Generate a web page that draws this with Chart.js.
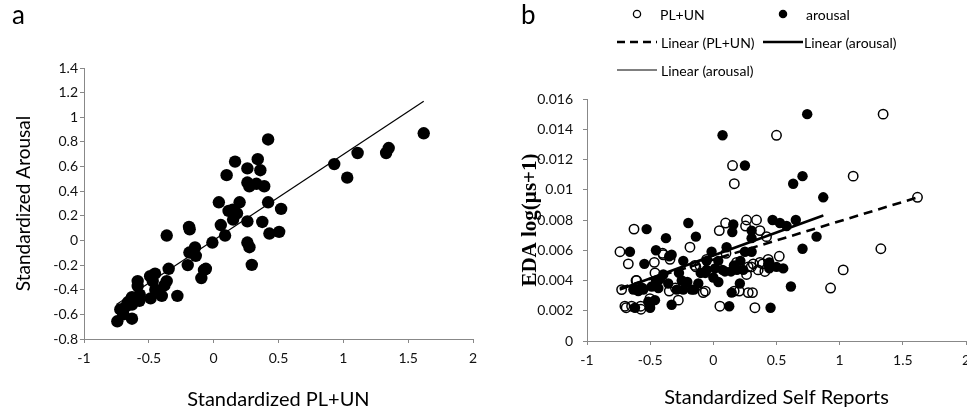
<!DOCTYPE html>
<html>
<head>
<meta charset="utf-8">
<script src="https://cdn.jsdelivr.net/npm/chart.js@4.4.1/dist/chart.umd.min.js"></script>
<style>
html, body { margin: 0; padding: 0; background: #fff; overflow: hidden; }
#wrap { position: relative; width: 967px; height: 415px; overflow: hidden; }
canvas { position: absolute; top: 0; }
#chartA { left: 0; }
#chartB { left: 510px; }
.panel { position: absolute; font-family: Lato, sans-serif; font-size: 26px; line-height: 26px; color: #000; }
</style>
</head>
<body>
<div id="wrap">
  <canvas id="chartA" width="500" height="415"></canvas>
  <canvas id="chartB" width="500" height="415"></canvas>
  <div class="panel" style="left:12px; top:1px;">a</div>
  <div class="panel" style="left:521px; top:1px;">b</div>
</div>
<script>
// Panel a: standardized PL+UN (x) vs standardized arousal (y)
const plunA = [1.62, 1.35, 1.33, 1.11, 0.93, 1.03, 0.42, 0.34, 0.36, 0.26, 0.165, 0.10,
  0.26, 0.275, 0.33, 0.39, 0.04, 0.20, 0.42, 0.52, 0.115, 0.147, 0.18, 0.15, 0.26, 0.375,
  0.055, 0.088, 0.43, 0.505, 0.26, 0.276, 0.294, -0.01, -0.19, -0.185, -0.362,
  -0.144, -0.187, -0.138, -0.20, -0.06, -0.095, -0.075, -0.347, -0.28, -0.362, -0.38,
  -0.452, -0.49, -0.47, -0.45, -0.40, -0.486, -0.586, -0.586, -0.57, -0.573, -0.63, -0.63,
  -0.676, -0.72, -0.743, -0.63, -0.697, -0.66, -0.60, -0.70];
const arousalA = [0.87, 0.75, 0.71, 0.71, 0.62, 0.51, 0.82, 0.66, 0.57, 0.585, 0.64, 0.53,
  0.47, 0.44, 0.46, 0.44, 0.31, 0.31, 0.31, 0.256, 0.24, 0.25, 0.22, 0.17, 0.155, 0.15,
  0.125, 0.04, 0.056, 0.07, -0.017, -0.055, -0.198, -0.017, 0.11, 0.09, 0.04,
  -0.057, -0.098, -0.125, -0.20, -0.23, -0.305, -0.24, -0.23, -0.45, -0.33, -0.365,
  -0.27, -0.29, -0.33, -0.40, -0.45, -0.47, -0.33, -0.37, -0.44, -0.49, -0.46, -0.52,
  -0.535, -0.56, -0.656, -0.635, -0.60, -0.50, -0.48, -0.57];
const trendAX = [-0.75, 1.62];
const trendAY = [-0.52, 1.13];

// Panel b: self reports (x) vs EDA log(us+1) (y)
const plunB = [1.344, 0.50, 0.152, 0.166, 1.107, 1.616, 1.326, 1.028, 0.928, 0.329, 0.052, 0.522,
  -0.628, -0.739, -0.673, -0.467, -0.343, -0.185, 0.047, 0.097, 0.263, 0.342, 0.255, 0.369,
  0.421, 0.316, 0.276, 0.369, 0.408, 0.355, 0.276, 0.31, 0.39, -0.726, -0.69, -0.647,
  -0.573, -0.612, -0.502, -0.462, -0.401, -0.277, -0.349, -0.08, -0.146, -0.053, -0.396,
  -0.138, -0.106, 0.184, 0.30, 0.165, 0.205, -0.70, -0.575, -0.50, -0.063, -0.607, -0.30,
  0.10, 0.434, 0.263];
const edaPlun = [0.0150, 0.0136, 0.0116, 0.0104, 0.0109, 0.0095, 0.0061, 0.0047, 0.0035, 0.0022, 0.0023, 0.0056,
  0.0074, 0.0059, 0.0051, 0.0052, 0.0054, 0.0062, 0.0073, 0.0078, 0.0080, 0.0080, 0.0076, 0.0073,
  0.0069, 0.0051, 0.0049, 0.0052, 0.0046, 0.0047, 0.0032, 0.0032, 0.0051, 0.0034, 0.0022, 0.0023,
  0.0021, 0.0040, 0.0028, 0.0045, 0.0058, 0.0027, 0.0033, 0.0032, 0.0050, 0.0054, 0.0057,
  0.0049, 0.0050, 0.0052, 0.0049, 0.0033, 0.0033, 0.0023, 0.0023, 0.0025, 0.0033, 0.0040, 0.0035,
  0.0058, 0.0054, 0.0044];
const arousalB = [0.743, 0.073, 0.25, 0.706, 0.632, 0.87, 0.817, 0.706, 0.614, 0.453, 0.126, 0.145,
  0.21, 0.469, 0.527, 0.58, 0.653, 0.435, 0.50, 0.553, 0.158, 0.15, 0.105, 0.303, 0.303,
  0.25, 0.303, 0.163, 0.092, 0.237, 0.443, 0.443, -0.528, -0.198, -0.66, -0.546, -0.454,
  -0.375, -0.138, -0.238, -0.272, -0.014, -0.053, 0.039, -0.33, -0.349, -0.633, -0.594,
  -0.554, -0.62, -0.50, -0.462, -0.488, -0.454, -0.422, -0.396, -0.33, -0.29, -0.238,
  -0.206, -0.172, -0.119, -0.10, -0.053, -0.357, 0.073, 0.14, 0.013, 0.187, 0.214, 0.0,
  0.04, -0.064, -0.607, -0.56, -0.515, -0.435, -0.25, -0.153];
const edaArousal = [0.0150, 0.0136, 0.0116, 0.0109, 0.0104, 0.0095, 0.0069, 0.0061, 0.0036, 0.0022, 0.0023, 0.0032,
  0.0038, 0.0080, 0.0078, 0.0076, 0.0080, 0.0051, 0.0049, 0.0048, 0.0077, 0.0072, 0.0062, 0.0073, 0.0068,
  0.0059, 0.0059, 0.0050, 0.0046, 0.0047, 0.0052, 0.0048, 0.0074, 0.0078, 0.0059, 0.0051, 0.0060,
  0.0068, 0.0069, 0.0053, 0.0045, 0.0059, 0.0053, 0.0053, 0.0057, 0.0056, 0.0034, 0.0033,
  0.0034, 0.0022, 0.0022, 0.0027, 0.0036, 0.0040, 0.0041, 0.0044, 0.0024, 0.0034, 0.0034,
  0.0039, 0.0034, 0.0038, 0.0045, 0.0047, 0.0038, 0.0047, 0.0046, 0.0048, 0.0047, 0.0053, 0.0042,
  0.0039, 0.0045, 0.0034, 0.0035, 0.0026, 0.0035, 0.0040, 0.0034];
const trendPlunX = [-0.74, 1.62];
const trendPlunY = [0.0035, 0.0095];
const trendArousalX = [-0.74, 0.87];
const trendArousalY = [0.0034, 0.0083];

const pts = (xs, ys) => xs.map((x, i) => ({ x: x, y: ys[i] }));
const fmt = v => String(+Number(v).toFixed(4));

Chart.defaults.font.family = 'Lato, sans-serif';
Chart.defaults.color = '#000';

const axisGray = '#888';

function axis(opts) {
  return {
    type: 'linear',
    min: opts.min,
    max: opts.max,
    border: { display: true, color: axisGray, width: 1 },
    grid: { drawOnChartArea: false, drawTicks: true, tickLength: 4, color: axisGray },
    ticks: { stepSize: opts.step, padding: opts.pad, font: { size: 14 }, color: '#111', callback: fmt, maxRotation: 0, autoSkip: false },
    title: { display: true, text: opts.title, font: opts.titleFont, color: '#000', padding: 0 },
    afterFit: opts.fit
  };
}

// ---------- panel a ----------
new Chart(document.getElementById('chartA'), {
  type: 'scatter',
  data: {
    datasets: [
      {
        label: 'Linear (arousal)',
        data: pts(trendAX, trendAY),
        showLine: true,
        pointRadius: 0,
        borderColor: '#000',
        borderWidth: 1.2,
        order: 0
      },
      {
        label: 'arousal',
        data: pts(plunA, arousalA),
        pointRadius: 6.2,
        backgroundColor: '#000',
        borderColor: '#000',
        borderWidth: 0,
        order: 1
      }
    ]
  },
  options: {
    responsive: false,
    animation: false,
    layout: { padding: { left: 12, top: 68, right: 27, bottom: 3 } },
    plugins: { legend: { display: false }, tooltip: { enabled: false } },
    scales: {
      x: axis({ min: -1, max: 2, step: 0.5, pad: 7, title: 'Standardized PL+UN',
        titleFont: { size: 20 }, fit: s => { s.height = 73; } }),
      y: axis({ min: -0.8, max: 1.4, step: 0.2, pad: 2, title: 'Standardized Arousal',
        titleFont: { size: 19 }, fit: s => { s.width = 72; } })
    }
  }
});

// ---------- panel b ----------
// legend drawn in the top padding, three rows like the original
const legendB = {
  id: 'legendB',
  afterDraw(chart, args, opts) {
    const ctx = chart.ctx;
    ctx.save();
    ctx.font = '14px Lato, sans-serif';
    ctx.textBaseline = 'middle';
    ctx.fillStyle = '#000';
    opts.items.forEach(it => {
      const ds = chart.data.datasets[it.index];
      if (ds.showLine) {
        ctx.beginPath();
        ctx.setLineDash(it.dash || []);
        ctx.lineWidth = ds.borderWidth;
        ctx.strokeStyle = ds.borderColor;
        ctx.moveTo(it.x, it.y);
        ctx.lineTo(it.x + 40, it.y);
        ctx.stroke();
        ctx.setLineDash([]);
      } else {
        ctx.beginPath();
        ctx.arc(it.x, it.y, 3.6, 0, Math.PI * 2);
        ctx.fillStyle = ds.backgroundColor;
        ctx.fill();
        ctx.lineWidth = 1.3;
        ctx.strokeStyle = ds.borderColor;
        ctx.stroke();
      }
      ctx.fillStyle = '#000';
      ctx.fillText(ds.label, it.tx, it.y + 1);
    });
    ctx.restore();
  }
};

new Chart(document.getElementById('chartB'), {
  type: 'scatter',
  data: {
    datasets: [
      {
        label: 'PL+UN',
        data: pts(plunB, edaPlun),
        pointRadius: 4.7,
        backgroundColor: 'rgba(255,255,255,0)',
        borderColor: '#000',
        borderWidth: 1.5,
        order: 2
      },
      {
        label: 'arousal',
        data: pts(arousalB, edaArousal),
        pointRadius: 5.2,
        backgroundColor: '#000',
        borderColor: '#000',
        borderWidth: 0,
        order: 1
      },
      {
        label: 'Linear (PL+UN)',
        data: pts(trendPlunX, trendPlunY),
        showLine: true,
        pointRadius: 0,
        borderColor: '#000',
        borderWidth: 2.6,
        borderDash: [9, 6],
        order: 0
      },
      {
        label: 'Linear (arousal)',
        data: pts(trendArousalX, trendArousalY),
        showLine: true,
        pointRadius: 0,
        borderColor: '#000',
        borderWidth: 2.6,
        order: 0
      },
      {
        label: 'Linear (arousal)',
        data: pts(trendArousalX, trendArousalY),
        showLine: true,
        pointRadius: 0,
        borderColor: '#000',
        borderWidth: 1,
        order: 0
      }
    ]
  },
  options: {
    responsive: false,
    animation: false,
    layout: { padding: { left: 8, top: 99, right: 44, bottom: 5 } },
    plugins: {
      legend: { display: false },
      tooltip: { enabled: false },
      legendB: {
        items: [
          { index: 0, x: 127, y: 14, tx: 150 },
          { index: 1, x: 273, y: 14, tx: 296 },
          { index: 2, x: 107, y: 42, tx: 151, dash: [8, 5] },
          { index: 3, x: 253, y: 42, tx: 294 },
          { index: 4, x: 107, y: 70, tx: 151 }
        ]
      }
    },
    scales: {
      x: axis({ min: -1, max: 2, step: 0.5, pad: 7, title: 'Standardized Self Reports',
        titleFont: { size: 20 }, fit: s => { s.height = 69; } }),
      y: axis({ min: 0, max: 0.016, step: 0.002, pad: 10, title: 'EDA log(\u00B5s+1)',
        titleFont: { size: 21, weight: 'bold', family: '"Liberation Serif", "Times New Roman", serif' },
        fit: s => { s.width = 69; } })
    }
  },
  plugins: [legendB]
});
</script>
</body>
</html>
